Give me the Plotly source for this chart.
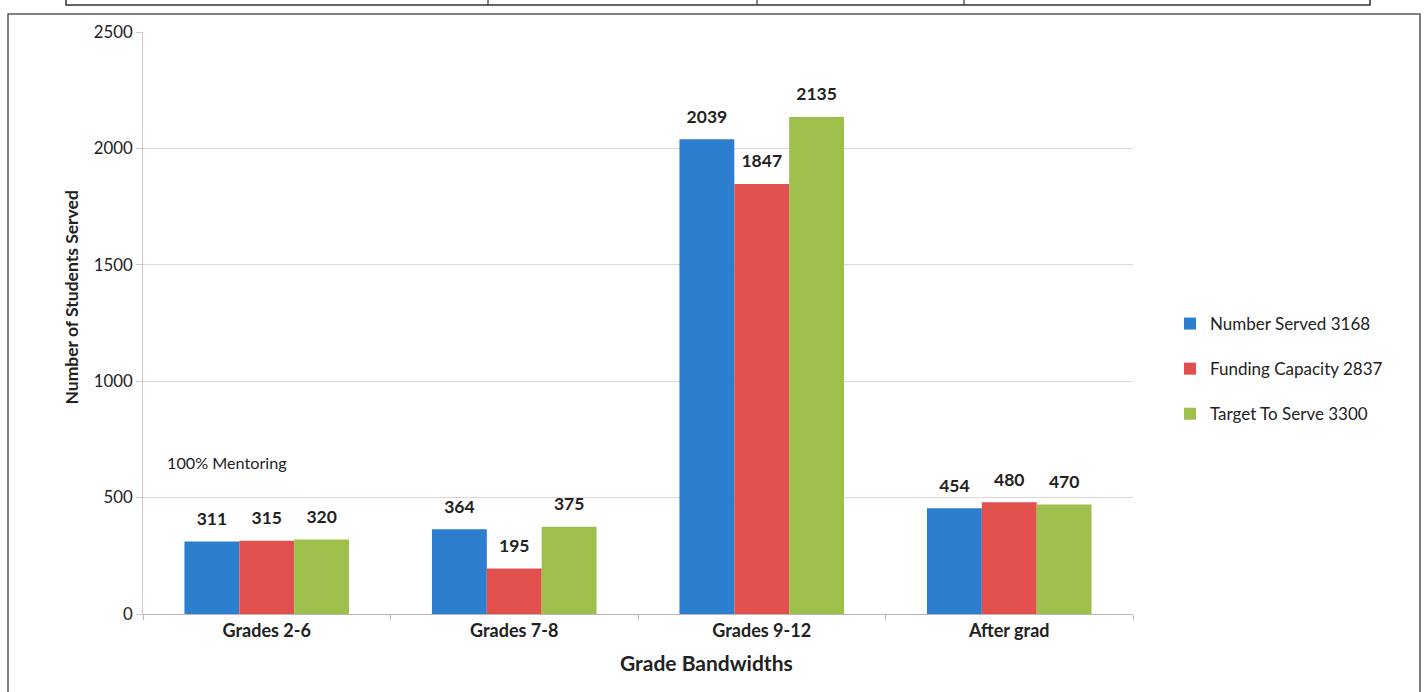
import plotly.graph_objects as go

categories = ["Grades 2-6", "Grades 7-8", "Grades 9-12", "After grad"]
series_names = ["Number Served 3168", "Funding Capacity 2837", "Target To Serve 3300"]
number_served = [311, 364, 2039, 454]
funding_capacity = [315, 195, 1847, 480]
target_to_serve = [320, 375, 2135, 470]
y_ticks = [0, 500, 1000, 1500, 2000, 2500]
colors = ["#2b7fce", "#e2504e", "#9dbf4b"]

W, H = 1426, 692
FONT = "Lato"

def px(x):
    return x / W

def py(y):
    return 1 - y / H

fig = go.Figure()
all_vals = [number_served, funding_capacity, target_to_serve]
for i, (name, vals, col) in enumerate(zip(series_names, all_vals, colors)):
    fig.add_trace(go.Bar(
        x=categories, y=vals, name=name, marker=dict(color=col, line=dict(width=0)),
        offsetgroup=f"g{i}", legendgroup=name,
    ))
for i, (name, vals) in enumerate(zip(series_names, all_vals)):
    fig.add_trace(go.Scatter(
        x=categories, y=vals, mode="markers+text", offsetgroup=f"g{i}",
        marker=dict(size=18, opacity=0), text=[str(v) for v in vals],
        textposition="top center", cliponaxis=False, showlegend=False,
        hoverinfo="skip",
        textfont=dict(family=FONT, size=17.5, color="#222222", weight="bold"),
    ))

fig.update_layout(
    width=W, height=H,
    margin=dict(l=0, r=0, t=0, b=0),
    paper_bgcolor="white", plot_bgcolor="white",
    barmode="group", bargap=0.335, bargroupgap=0,
    scattermode="group", scattergap=0.335,
    font=dict(family=FONT, color="#222222"),
    showlegend=True,
    legend=dict(x=px(1170), y=py(306), xanchor="left", yanchor="top",
                font=dict(family=FONT, size=17, color="#222222"),
                tracegroupgap=20, itemwidth=30, bgcolor="rgba(0,0,0,0)"),
    xaxis=dict(domain=[px(143), px(1133)], automargin=False,
               showline=True, linecolor="#c0b4b6", linewidth=1,
               ticks="outside", tickson="boundaries", ticklen=5, tickcolor="#c0b4b6",
               tickfont=dict(family=FONT, size=18, color="#222222", weight="bold"),
               showgrid=False),
    yaxis=dict(domain=[py(614), py(32)], automargin=False, range=[0, 2500],
               tickvals=y_ticks, showline=True, linecolor="#cfc4c6", linewidth=1,
               ticks="outside", ticklen=6, tickcolor="#cfc4c6",
               tickfont=dict(family=FONT, size=16.8, color="#222222"),
               showgrid=True, gridcolor="#e3d3d7", gridwidth=1, zeroline=False),
)

fig.add_annotation(text="<b>Number of Students Served</b>", textangle=-90,
                   x=px(58), y=py(298), xref="paper", yref="paper", showarrow=False,
                   font=dict(family=FONT, size=17.5, color="#222222"))
fig.add_annotation(text="<b>Grade Bandwidths</b>",
                   x=px(706), y=py(677), xref="paper", yref="paper", showarrow=False,
                   xanchor="center", font=dict(family=FONT, size=21, color="#222222"))
fig.add_annotation(text="100% Mentoring",
                   x=px(165), y=py(474), xref="paper", yref="paper", showarrow=False,
                   xanchor="left", font=dict(family=FONT, size=16.2, color="#222222"))

# outer border and top table fragment from the scan
fig.add_shape(type="rect", xref="paper", yref="paper",
              x0=px(8), x1=px(1420), y0=py(700), y1=py(14),
              line=dict(color="#555555", width=1.5))
fig.add_shape(type="rect", xref="paper", yref="paper",
              x0=px(66), x1=px(1370), y0=py(5), y1=py(-5),
              line=dict(color="#333333", width=1.5))
for xv in [488, 757, 964]:
    fig.add_shape(type="line", xref="paper", yref="paper",
                  x0=px(xv), x1=px(xv), y0=py(5), y1=py(0),
                  line=dict(color="#333333", width=1.2))

fig.write_html("out.html")
